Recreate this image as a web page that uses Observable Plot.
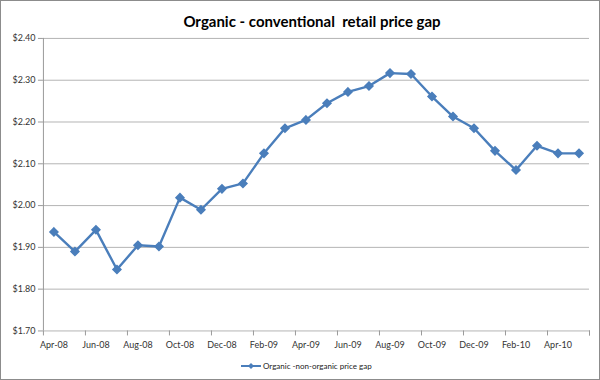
<!DOCTYPE html>
<html><head><meta charset="utf-8">
<script src="https://cdn.jsdelivr.net/npm/d3@7"></script>
<script src="https://cdn.jsdelivr.net/npm/@observablehq/plot@0.6"></script>
<style>
html,body{margin:0;padding:0;background:#fff;}
#wrap{position:relative;width:600px;height:380px;box-sizing:border-box;border:1px solid #8c8c8c;overflow:hidden;font-family:Lato,"Open Sans",sans-serif;}
#chart{position:absolute;left:-1px;top:-1px;}
#title{position:absolute;left:0;top:11px;width:622px;text-align:center;font-weight:bold;font-size:15px;color:#000;}
#legend{position:absolute;left:239px;top:360px;font-size:8px;color:#222;display:flex;align-items:center;}
#legend svg{margin-right:1px;}
</style></head>
<body>
<div id="wrap">
<div id="chart"></div>
<div id="title">Organic - conventional&nbsp; retail price gap</div>
<div id="legend"></div>
</div>
<script>
const months = ["Apr-08","May-08","Jun-08","Jul-08","Aug-08","Sep-08","Oct-08","Nov-08","Dec-08",
  "Jan-09","Feb-09","Mar-09","Apr-09","May-09","Jun-09","Jul-09","Aug-09","Sep-09","Oct-09","Nov-09","Dec-09",
  "Jan-10","Feb-10","Mar-10","Apr-10","May-10"];
const priceGap = [1.937,1.890,1.942,1.847,1.905,1.902,2.019,1.990,2.040,
  2.053,2.125,2.185,2.205,2.245,2.272,2.286,2.317,2.315,2.261,2.213,2.185,
  2.131,2.085,2.143,2.125,2.125];
const yTicks = [1.70,1.80,1.90,2.00,2.10,2.20,2.30,2.40];
const seriesName = "Organic -non-organic price gap";

const data = months.map((m,i)=>({i, month:m, value:priceGap[i]}));
const labelIdx = months.map((m,i)=>i).filter(i=>i%2===0);
const boundaryIdx = d3.range(-0.5, months.length, 2).concat([months.length-0.5]);
const blue = "#4a7ebb";

const chart = Plot.plot({
  width: 600, height: 380,
  marginLeft: 43, marginRight: 10, marginTop: 38, marginBottom: 49,
  style: {fontFamily: "Lato, 'Open Sans', sans-serif", fontSize: "9px", color: "#333", background: "transparent"},
  x: {type: "linear", domain: [-0.5, months.length - 0.5]},
  y: {domain: [1.70, 2.40]},
  marks: [
    Plot.gridY(yTicks, {stroke: "#b4b4b4", strokeOpacity: 1, strokeWidth: 1}),
    Plot.ruleX([-0.5], {stroke: "#9a9a9a", strokeWidth: 1}),
    Plot.axisY(yTicks, {tickFormat: d => "$" + d.toFixed(2), tickSize: 5, tickPadding: 3, stroke: "#9a9a9a", label: null, fontSize: 9}),
    Plot.axisX(boundaryIdx, {tickFormat: () => "", tickSize: 5, stroke: "#9a9a9a", label: null}),
    Plot.axisX(labelIdx, {tickFormat: i => months[i], tickSize: 0, tickPadding: 11, label: null, fontSize: 9}),
    Plot.line(data, {x: "i", y: "value", stroke: blue, strokeWidth: 2.4}),
    Plot.dot(data, {x: "i", y: "value", symbol: "diamond2", r: 3.6, fill: blue, stroke: blue})
  ]
});
document.getElementById("chart").appendChild(chart);

// legend
const lg = d3.select("#legend");
const sw = lg.append("svg").attr("width", 22).attr("height", 10);
sw.append("line").attr("x1", 1).attr("x2", 21).attr("y1", 5).attr("y2", 5).attr("stroke", blue).attr("stroke-width", 2);
sw.append("path").attr("d", d3.symbol(d3.symbolDiamond2, 24)()).attr("transform", "translate(11,5)").attr("fill", blue);
lg.append("span").text(seriesName);
</script>
</body></html>
